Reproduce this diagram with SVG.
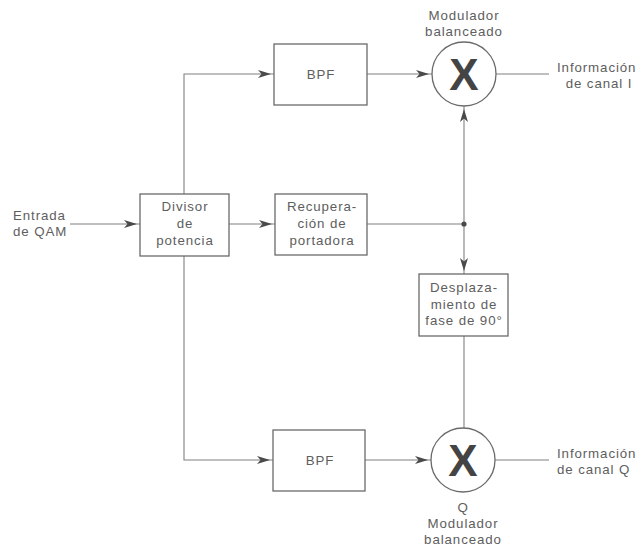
<svg xmlns="http://www.w3.org/2000/svg" width="644" height="548" viewBox="0 0 644 548">
  <style>
    .box { fill: #fff; stroke: #6a6a6a; stroke-width: 1.3; }
    .mix { fill: #fff; stroke: #6a6a6a; stroke-width: 1.3; }
    .wire { fill: none; stroke: #808080; stroke-width: 1.1; }
    .lbl { font-family: "Liberation Sans", Arial, sans-serif; font-size: 13.3px; fill: #5e5e5e; letter-spacing: 0.9px; }
    .mid { text-anchor: middle; }
    .x { font-family: "Liberation Sans", Arial, sans-serif; font-size: 44px; font-weight: bold; fill: #444; text-anchor: middle; }
  </style>
  <defs>
    <marker id="arr" markerUnits="userSpaceOnUse" markerWidth="20" markerHeight="12" viewBox="0 -6 20 12" refX="16" refY="0" orient="auto">
      <path d="M0,-4 L13,0 L0,4 L3.5,0 z" fill="#4a4a4a"/>
    </marker>
  </defs>

  <rect width="644" height="548" fill="#fff"/>

  <!-- connectors -->
  <g id="connectors">
    <path class="wire" d="M70,224 H140" marker-end="url(#arr)"/>
    <path class="wire" d="M229,224 H275" marker-end="url(#arr)"/>
    <path class="wire" d="M184,194 V74 H274" marker-end="url(#arr)"/>
    <path class="wire" d="M184,256 V460 H273" marker-end="url(#arr)"/>
    <path class="wire" d="M367,74 H432" marker-end="url(#arr)"/>
    <path class="wire" d="M365,460 H431" marker-end="url(#arr)"/>
    <path class="wire" d="M367,224 H464"/>
    <path class="wire" d="M464,224 V106" marker-end="url(#arr)"/>
    <path class="wire" d="M464,224 V274" marker-end="url(#arr)"/>
    <path class="wire" d="M464,336 V428"/>
    <path class="wire" d="M496,74 H549"/>
    <path class="wire" d="M495,460 H549"/>
    <circle cx="464" cy="224" r="2.6" fill="#4a4a4a"/>
  </g>

  <!-- input label -->
  <g id="input">
    <text class="lbl" x="13" y="220">Entrada</text>
    <text class="lbl" x="13" y="236">de QAM</text>
  </g>

  <g id="divisor">
    <rect class="box" x="140" y="194" width="89" height="62"/>
    <text class="lbl mid" x="185" y="211">Divisor</text>
    <text class="lbl mid" x="185" y="228">de</text>
    <text class="lbl mid" x="185" y="245">potencia</text>
  </g>

  <g id="recuperacion">
    <rect class="box" x="275" y="194" width="92" height="61"/>
    <text class="lbl mid" x="322" y="211">Recupera-</text>
    <text class="lbl mid" x="322" y="228">ción de</text>
    <text class="lbl mid" x="322" y="245">portadora</text>
  </g>

  <g id="bpf-i">
    <rect class="box" x="274" y="44" width="93" height="61"/>
    <text class="lbl mid" x="321" y="79">BPF</text>
  </g>

  <g id="bpf-q">
    <rect class="box" x="273" y="430" width="92" height="61"/>
    <text class="lbl mid" x="320" y="465">BPF</text>
  </g>

  <g id="desplazamiento">
    <rect class="box" x="419" y="274" width="89" height="62"/>
    <text class="lbl mid" x="464" y="292">Desplaza-</text>
    <text class="lbl mid" x="464" y="309">miento de</text>
    <text class="lbl mid" x="464" y="325">fase de 90°</text>
  </g>

  <g id="modulador-i">
    <circle class="mix" cx="464" cy="74" r="32"/>
    <text class="x" x="464" y="90">X</text>
    <text class="lbl mid" x="464" y="20">Modulador</text>
    <text class="lbl mid" x="464" y="36">balanceado</text>
  </g>

  <g id="modulador-q">
    <circle class="mix" cx="463" cy="460" r="32"/>
    <text class="x" x="463" y="476">X</text>
    <text class="lbl mid" x="463" y="512">Q</text>
    <text class="lbl mid" x="463" y="528">Modulador</text>
    <text class="lbl mid" x="463" y="544">balanceado</text>
  </g>

  <g id="salida-i">
    <text class="lbl" x="557" y="72">Información</text>
    <text class="lbl mid" x="599" y="88">de canal I</text>
  </g>

  <g id="salida-q">
    <text class="lbl" x="557" y="458">Información</text>
    <text class="lbl" x="557" y="474">de canal Q</text>
  </g>
</svg>
